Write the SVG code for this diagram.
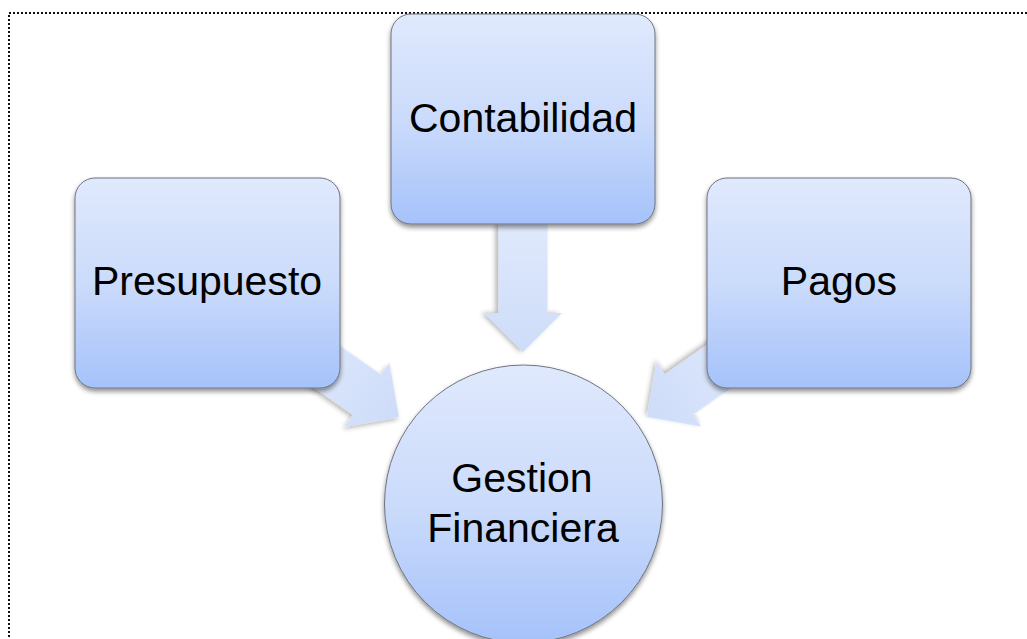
<svg xmlns="http://www.w3.org/2000/svg" width="1027" height="639" viewBox="0 0 1027 639">
<style>
.node{stroke:#6f7580;stroke-width:1}
.lbl{font-family:"Liberation Sans",Arial,sans-serif;font-size:41px;fill:#000;text-anchor:middle}
.arrow{fill:url(#arrowGrad);filter:url(#arrowShadow)}
</style>
<defs>
<linearGradient id="nodeGrad" x1="0" y1="0" x2="0" y2="1">
<stop offset="0" stop-color="#e0e9fd"/>
<stop offset="0.5" stop-color="#cbdbfb"/>
<stop offset="1" stop-color="#a5c2fa"/>
</linearGradient>
<linearGradient id="arrowGrad" x1="0" y1="0" x2="1" y2="0">
<stop offset="0" stop-color="#e0e9fc"/>
<stop offset="1" stop-color="#cddcf9"/>
</linearGradient>
<filter id="nodeShadow" x="-10%" y="-10%" width="125%" height="125%">
<feGaussianBlur in="SourceAlpha" stdDeviation="2.5"/>
<feOffset dx="0" dy="3" result="b"/>
<feComponentTransfer><feFuncA type="linear" slope="0.45"/></feComponentTransfer>
<feMerge><feMergeNode/><feMergeNode in="SourceGraphic"/></feMerge>
</filter>
<filter id="arrowShadow" x="-20%" y="-20%" width="140%" height="140%">
<feGaussianBlur in="SourceAlpha" stdDeviation="2.5"/>
<feOffset dx="0" dy="3" result="b"/>
<feComponentTransfer><feFuncA type="linear" slope="0.3"/></feComponentTransfer>
<feMerge><feMergeNode/><feMergeNode in="SourceGraphic"/></feMerge>
</filter>
<path id="arr" d="M-128,-24.5 L-39,-24.5 L-39,-39 L0,0 L-39,39 L-39,24.5 L-128,24.5 Z"/>
</defs>
<rect x="9" y="13" width="1040" height="640" fill="none" stroke="#111" stroke-width="2" stroke-dasharray="2 2"/>
<g id="connectors">
<use href="#arr" class="arrow" transform="translate(523,352) rotate(90)"/>
<use href="#arr" class="arrow" transform="translate(399,417) rotate(35)"/>
<use href="#arr" class="arrow" transform="translate(647,417) rotate(145)"/>
</g>
<g id="contabilidad">
<rect class="node" x="391" y="14" width="264" height="210" rx="20" fill="url(#nodeGrad)" filter="url(#nodeShadow)"/>
<text class="lbl" x="523" y="132">Contabilidad</text>
</g>
<g id="presupuesto">
<rect class="node" x="75" y="178" width="265" height="210" rx="20" fill="url(#nodeGrad)" filter="url(#nodeShadow)"/>
<text class="lbl" x="207" y="295">Presupuesto</text>
</g>
<g id="pagos">
<rect class="node" x="707" y="178" width="264" height="210" rx="20" fill="url(#nodeGrad)" filter="url(#nodeShadow)"/>
<text class="lbl" x="839" y="295">Pagos</text>
</g>
<g id="gestion-financiera">
<circle class="node" cx="523.5" cy="504" r="139" fill="url(#nodeGrad)" filter="url(#nodeShadow)"/>
<text class="lbl" x="522" y="492">Gestion</text>
<text class="lbl" x="523" y="542">Financiera</text>
</g>
</svg>
